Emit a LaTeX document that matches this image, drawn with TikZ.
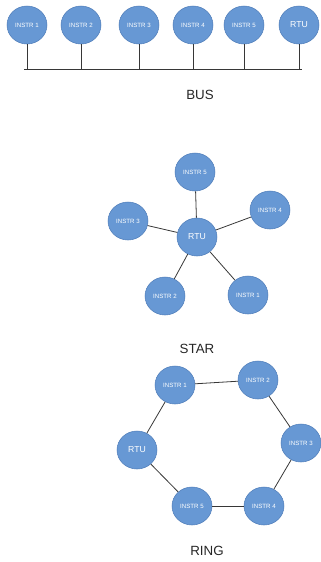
\documentclass[tikz,border=0pt]{standalone}
\usepackage{fontspec}
\setmainfont{Liberation Sans}
\usetikzlibrary{shapes.geometric}
\tikzstyle{topology} = [x = .75pt, y = -.75pt]
\definecolor{nodeColor}{RGB}{103,152,212}
\definecolor{nodeEdge}{RGB}{80,126,186}
\definecolor{linkColor}{RGB}{55,55,55}
\tikzstyle{deviceStyle} = [ellipse, fill=nodeColor, draw=nodeEdge, thin, minimum width=30pt, minimum height=28.5pt, inner sep=0pt, text=white, font=\fontsize{4.6}{5}\selectfont]
\tikzstyle{rtuStyle} = [deviceStyle, font=\fontsize{6.5}{7}\selectfont]
\tikzstyle{linkLine} = [color=linkColor, semithick]
\tikzstyle{captionText} = [font=\fontsize{10}{12}\selectfont, text=black!85]
\newcommand{\device}[4]{\node [deviceStyle] (#1) at (#2,#3) {#4};}
\newcommand{\rtuNode}[3]{\node [rtuStyle] (#1) at (#2,#3) {RTU};}
\newcommand{\link}[2]{\draw [linkLine] (#1) -- (#2);}

\begin{document}
\begin{tikzpicture}[topology]
  \useasboundingbox (0,0) rectangle (321,562);

  % bus
  \foreach \xpos [count=\num] in {27,81,139,193,244} {
    \device{bus\num}{\xpos}{25}{INSTR \num}
  }
  \rtuNode{busRtu}{299}{25}
  \coordinate (busLeft) at (24,69);
  \coordinate (busRight) at (302,69);
  \link{busLeft}{busRight}
  \foreach \name in {bus1,bus2,bus3,bus4,bus5,busRtu} {
    \draw [linkLine] (\name.south) -- (\name.south |- busLeft);
  }
  \node [captionText] (busLabel) at (200,95) {BUS};

  % star
  \rtuNode{starRtu}{197}{237}
  \device{star1}{248}{295}{INSTR 1}
  \device{star2}{165}{296}{INSTR 2}
  \device{star3}{128}{221}{INSTR 3}
  \device{star4}{270}{210}{INSTR 4}
  \device{star5}{195}{172}{INSTR 5}
  \foreach \num in {1,...,5} {
    \link{starRtu}{star\num}
  }
  \node [captionText] (starLabel) at (197,349) {STAR};

  % ring
  \device{ring1}{175}{385}{INSTR 1}
  \device{ring2}{258}{380}{INSTR 2}
  \device{ring3}{301}{443}{INSTR 3}
  \device{ring4}{264}{506}{INSTR 4}
  \device{ring5}{192}{506}{INSTR 5}
  \rtuNode{ringRtu}{137}{450}
  \link{ring1}{ring2}
  \link{ring2}{ring3}
  \link{ring3}{ring4}
  \link{ring4}{ring5}
  \link{ring5}{ringRtu}
  \link{ringRtu}{ring1}
  \node [captionText] (ringLabel) at (207,551) {RING};
\end{tikzpicture}
\end{document}
